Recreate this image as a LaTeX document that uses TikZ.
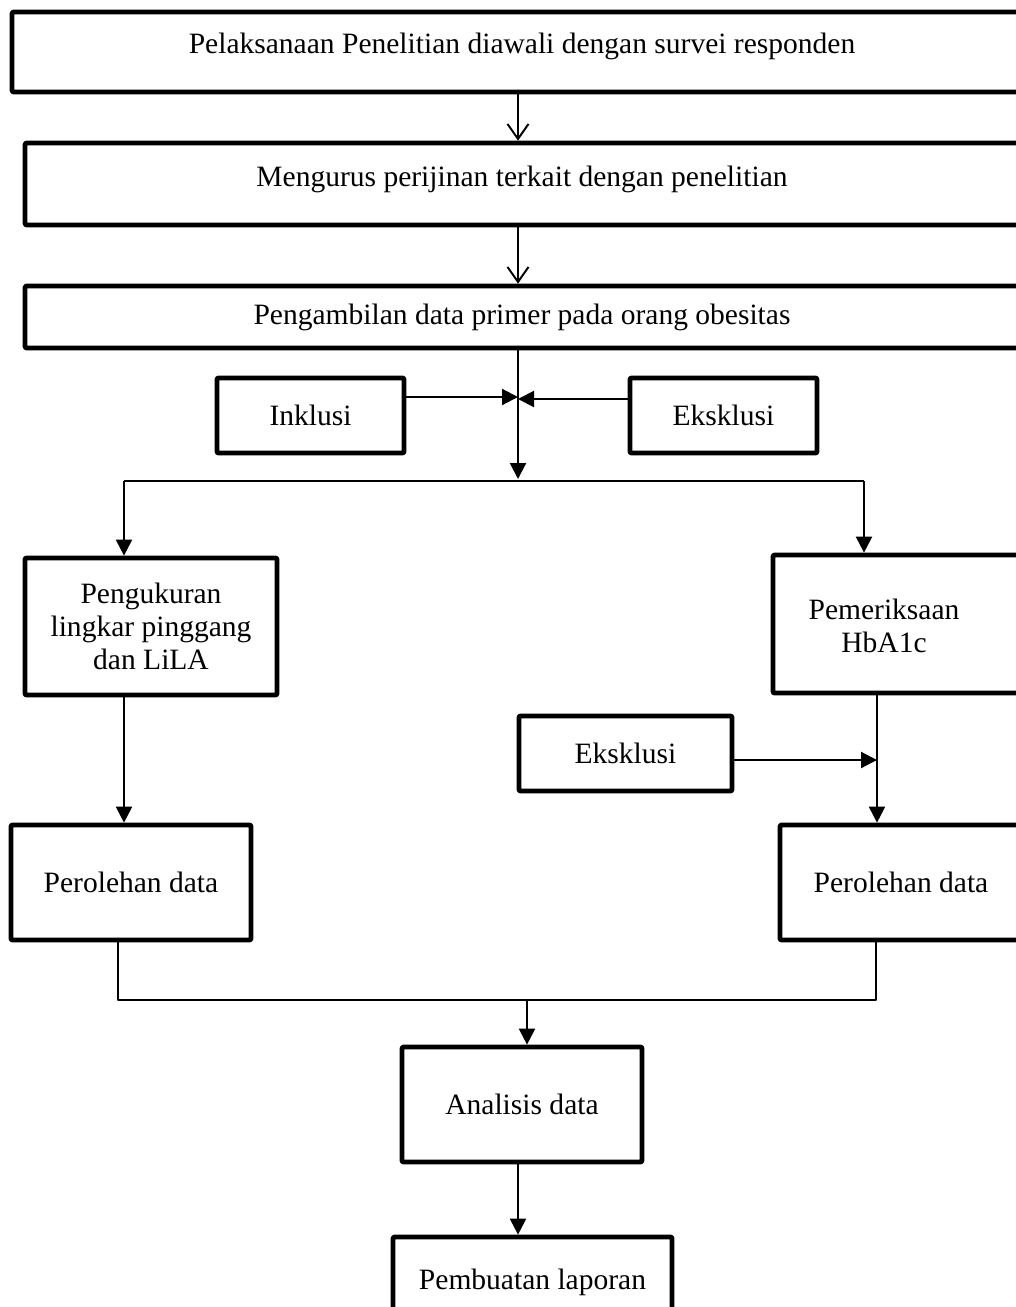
\documentclass[tikz,border=0pt]{standalone}
\usepackage{fontspec}
\setmainfont{Liberation Serif}
\usetikzlibrary{arrows.meta,calc}

\begin{document}
\begin{tikzpicture}[x=0.02cm,y=-0.02cm,line join=round,font=\fontsize{16.8}{19}\selectfont,
		box/.style={draw,line width=2.7pt,rounded corners=0.6pt,inner sep=0pt,align=center},
		arr/.style={line width=1.2pt,-{Triangle[length=0.32cm,width=0.32cm]}},
		barb/.style={line width=1.1pt,-{Straight Barb[length=0.3cm,width=0.42cm]}},
		link/.style={line width=0.75pt}]
	\useasboundingbox (0,0) rectangle (1016,1307);
	\clip (0,0) rectangle (1016,1307);
	% kotak utama
	\node[box,minimum width=20.4cm,minimum height=1.6cm,text depth=10.4pt] (survei) at (522,52) {Pelaksanaan Penelitian diawali dengan survei responden};
	\node[box,minimum width=19.88cm,minimum height=1.64cm,text depth=9.2pt] (izin) at (522,184) {Mengurus perijinan terkait dengan penelitian};
	\node[box,minimum width=19.88cm,minimum height=1.24cm] (ambil) at (522,317) {Pengambilan data primer pada orang obesitas};
	\node[box,minimum width=3.74cm,minimum height=1.5cm] (inkl) at (310.5,415.5) {Inklusi};
	\node[box,minimum width=3.74cm,minimum height=1.5cm] (ekskA) at (723.5,415.5) {Eksklusi};
	% cabang kiri dan kanan
	\node[box,minimum width=5.04cm,minimum height=2.74cm] (ukur) at (151,626.5) {Pengukuran\\lingkar pinggang\\dan LiLA};
	\node[box,minimum width=5.2cm,minimum height=2.76cm] (pem) at (903,624) {};
	\path (pem.center) ++(-19,2) node[align=center] (pemteks) {Pemeriksaan\\HbA1c};
	\node[box,minimum width=4.26cm,minimum height=1.5cm] (ekskB) at (625.5,753.5) {Eksklusi};
	\node[box,minimum width=4.8cm,minimum height=2.3cm] (olahL) at (131,882.5) {Perolehan data};
	\node[box,minimum width=4.84cm,minimum height=2.3cm] (olahR) at (901,882.5) {Perolehan data};
	% akhir
	\node[box,minimum width=4.8cm,minimum height=2.3cm] (anal) at (522,1104.5) {Analisis data};
	\node[box,minimum width=5.58cm,minimum height=1.8cm] (lap) at (532.5,1282) {Pembuatan laporan};
	% panah
	\coordinate (spine) at (518,0);
	\draw[barb] (spine |- survei.south) -- (spine |- izin.north);
	\draw[barb] (spine |- izin.south) -- (spine |- ambil.north);
	\coordinate (split) at (518,479);
	\draw[arr] (spine |- ambil.south) -- (split);
	\draw[arr] ([yshift=0.37cm]inkl.east) -- ([yshift=0.37cm]inkl.east -| spine);
	\draw[arr] ([yshift=0.33cm]ekskA.west) -- ([yshift=0.33cm]ekskA.west -| spine);
	\coordinate (splitL) at (124,481);
	\coordinate (splitR) at (864,481);
	\draw[link] (splitL) -- (splitR);
	\draw[arr] (splitL) -- (splitL |- ukur.north);
	\draw[arr] (splitR) -- (splitR |- pem.north);
	\draw[arr] (splitL |- ukur.south) -- (splitL |- olahL.north);
	\coordinate (joinR) at (877,0);
	\draw[arr] (joinR |- pem.south) -- (joinR |- olahR.north);
	\draw[arr] ([yshift=-0.13cm]ekskB.east) -- ([yshift=-0.13cm]ekskB.east -| joinR);
	\coordinate (mergeL) at (118,1000);
	\coordinate (mergeR) at (876,1000);
	\coordinate (mergeM) at (527,1000);
	\draw[link] (mergeL |- olahL.south) -- (mergeL) -- (mergeR) -- (mergeR |- olahR.south);
	\draw[arr] (mergeM) -- (mergeM |- anal.north);
	\draw[arr] (spine |- anal.south) -- (spine |- lap.north);
\end{tikzpicture}
\end{document}
